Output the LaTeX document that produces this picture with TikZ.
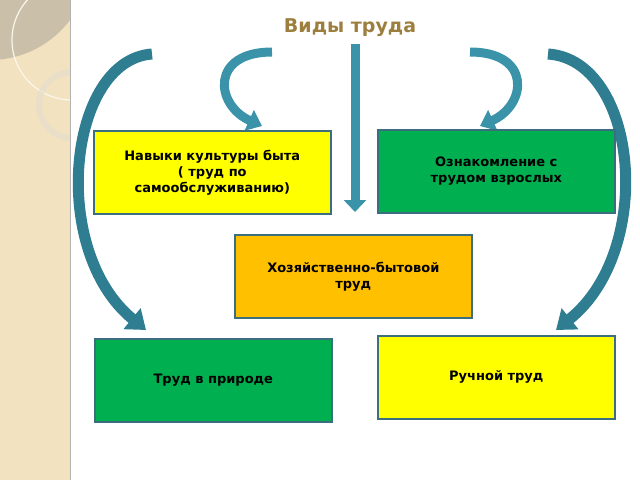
\documentclass[tikz,border=0pt]{standalone}
\usepackage{fontspec}
\setmainfont{DejaVu Sans}
\usetikzlibrary{arrows.meta}
\definecolor{strip}{HTML}{F3E2C0}
\definecolor{teal1}{HTML}{2F7D91}
\definecolor{teal2}{HTML}{3A93A8}
\definecolor{bord}{HTML}{3B6E7E}
\definecolor{tgreen}{HTML}{00B050}
\definecolor{tyel}{HTML}{FFFF00}
\definecolor{torange}{HTML}{FFC000}
\definecolor{ttitle}{HTML}{9C7F3F}
\begin{document}
\begin{tikzpicture}[x=1pt,y=-1pt,
 box/.style={draw=bord,line width=1.6pt,minimum width=237pt,minimum height=83pt,align=center,font=\bfseries\fontsize{13}{16}\selectfont,anchor=north west,inner sep=2pt},
 barrow/.style={draw=teal1,line width=11pt,-{Triangle[width=26pt,length=18pt]}},
 sarrow/.style={draw=teal2,line width=9pt,-{Triangle[width=22pt,length=14pt]}}]
\useasboundingbox (0,0) rectangle (640,480);
% left strip
\begin{scope}
\clip (0,0) rectangle (70,480);
\fill[strip] (0,0) rectangle (70,480);
\fill[gray!35!strip] (-10,-40) circle (100);
\draw[white!70!strip,line width=1.2pt] (72,40) circle (60);
\draw[strip!70!gray!60,line width=6pt,opacity=0.6] (72,105) circle (33);
\end{scope}
\draw[gray!60,line width=1pt] (70,0) -- (70,480);
\node[font=\bfseries\fontsize{19}{22}\selectfont,text=ttitle] (title) at (350,28) {Виды труда};
\coordinate (s1) at (152,54); \coordinate (e1) at (146,330);
\coordinate (s2) at (548,54); \coordinate (e2) at (556,330);
\coordinate (s3) at (272,52); \coordinate (e3) at (262,126);
\coordinate (s4) at (470,52); \coordinate (e4) at (480,126);
\coordinate (s5) at (355,44); \coordinate (e5) at (355,212);
\draw[barrow] (s1) .. controls (68,60) and (48,250) .. (e1);
\draw[barrow] (s2) .. controls (638,60) and (656,250) .. (e2);
\draw[sarrow] (s3) .. controls (210,52) and (215,105) .. (e3);
\draw[sarrow] (s4) .. controls (532,52) and (527,105) .. (e4);
\draw[draw=teal2,line width=9pt,-{Triangle[width=22pt,length=12pt]}] (s5) -- (e5);
\node[box,fill=tyel] (b1) at (93,130) {Навыки культуры быта\\( труд по\\самообслуживанию)};
\node[box,fill=tgreen] (b2) at (377,129) {Ознакомление с\\трудом взрослых};
\node[box,fill=torange] (b3) at (234,234) {Хозяйственно-бытовой\\труд};
\node[box,fill=tgreen] (b4) at (94,338) {Труд в природе};
\node[box,fill=tyel] (b5) at (377,335) {Ручной труд};
\end{tikzpicture}
\end{document}
